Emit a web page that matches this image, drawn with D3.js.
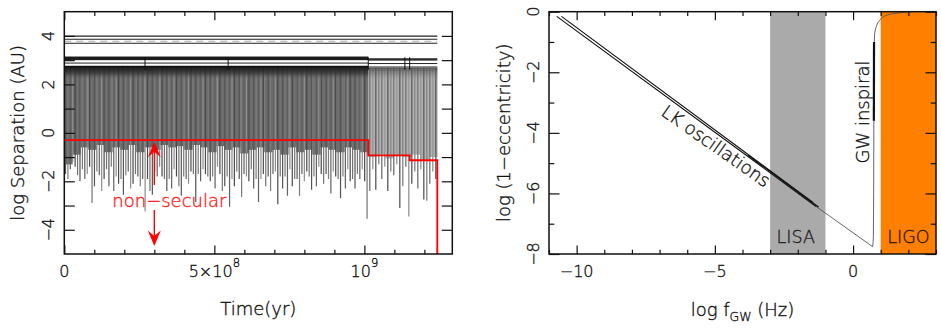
<!DOCTYPE html>
<html><head><meta charset="utf-8">
<script src="https://cdn.jsdelivr.net/npm/d3@7"></script>
<style>
body{margin:0;background:#fff}
svg{display:block}
text{font-family:"DejaVu Sans",sans-serif;font-weight:300;fill:#111;stroke:#111;stroke-width:0.35px}
</style>
</head><body>
<svg id="c" width="941" height="329"></svg>
<script>
// ---------------- LEFT PANEL DATA ----------------
const timeDomain = [0, 1.293e9];
const sepDomain = [-5, 5];
const timeMajorTicks = [0, 5e8, 1e9];
const timeMinorTicks = [1e8,2e8,3e8,4e8,6e8,7e8,8e8,9e8,1.1e9,1.2e9];
const sepTicks = [-4,-3,-2,-1,0,1,2,3,4];
const sepTickLabels = [-4,-2,0,2,4];

// outer orbit (log AU) – constant lines until end of run
const outerLevels = [3.99, 3.86, 3.70];
const outerFaint = [3.78];
const runEnd = 1.243e9;

// two secular phases (start,end in yr)
const phaseStarts = [0, 1.013e9];
const phaseEnds   = [1.013e9, 1.243e9];
// inner binary band (apoapsis side) per phase
const bandTop    = [3.15, 3.08];
const bandBottom = [3.00, 2.98];
const bandLine1  = [2.88, 2.86];
const bandLine2  = [2.74, 2.72];

// periapsis minima for each LK cycle, phase 1
const phase1Min = [-1.7,-1.9,-1.5,-1.2,-1.4,-1.75,-2.0,-1.5,-1.9,-1.7,-1.4,-2.9,-2.2,-1.6,-1.75,-2.4,-1.9,-1.5,-2.2,-1.4,
-2.4,-1.8,-2.1,-1.9,-2.55,-1.75,-1.6,-2.3,-2.1,-1.7,-1.8,-2.2,-1.9,-3.25,-1.9,-2.4,-2.55,-1.6,-1.8,-1.4,
-1.8,-1.9,-2.4,-1.9,-2.3,-1.5,-1.8,-2.2,-2.6,-1.8,-1.9,-2.1,-1.6,-1.7,-2.85,-1.7,-2.0,-1.5,-1.7,-1.8,
-2.0,-1.8,-2.3,-1.4,-1.7,-2.4,-2.2,-1.8,-3.05,-1.9,-2.2,-1.6,-1.9,-2.65,-1.7,-1.8,-2.0,-1.5,-2.3,-1.9,
-2.85,-1.9,-1.7,-2.2,-1.8,-2.4,-1.7,-1.6,-2.95,-1.8,-2.3,-1.8,-2.6,-1.5,-2.2,-1.9,-1.9,-2.6,-1.7,-2.0,
-1.6,-1.8,-2.35,-1.8,-2.2,-1.4,-1.7,-2.1,-1.7,-1.9,-2.5,-1.6,-1.8,-1.9,-2.7,-1.8,-2.3,-1.5,-2.0,-1.9,
-2.3,-1.7,-1.9,-1.5,-2.0,-3.55];
// lower edge of the dense (unresolved) part, phase 1
const phase1Floor = [-1.3,-0.9,-0.6,-0.7,-0.5,-0.8,-0.6,-0.7,-0.5,-0.8,-0.6,-0.7,-0.5,-0.6,-0.55,-0.7,-0.5,-0.6,-0.8,-0.55,
-0.7,-0.6,-0.85,-0.7,-0.6,-0.8,-0.7,-0.9,-0.6,-0.8,-0.7,-0.9,-0.6,-0.7,-0.8,-0.6,-0.7,-0.8];
// phase 2
const phase2Min = [-2.4,-1.5,-2.35,-1.3,-1.9,-1.4,-2.4,-1.6,-1.75,-1.3,-3.1,-2.2,-1.4,-3.45,-2.1,-1.6,-2.3,-1.5,-2.75,-2.8,
-2.1,-1.6,-1.9];
const phase2Floor = [-1.0,-0.9,-1.05,-0.95,-1.0,-0.9,-1.1,-1.0];
// instabilities / glitches seen as vertical marks in band
const glitchTimes = [2.69e8, 5.46e8, 1.013e9, 1.135e9, 1.151e9];

// non-secular threshold (red step)
const thrTimes  = [0, 1.013e9, 1.151e9, 1.243e9];
const thrLevels = [-0.30, -0.93, -1.13, -5];
const arrowTime = 3.0e8;
const upArrow = [-2.15, -0.37];
const downArrow = [-3.18, -4.67];

// ---------------- RIGHT PANEL DATA ----------------
const fDomain = [-11, 3];
const eDomain = [-8, 0];
const fMajor = [-10, -5, 0];
const fMinor = [-11,-9,-8,-7,-6,-4,-3,-2,-1,1,2,3];
const eMajor = [-8,-6,-4,-2,0];
const eMinor = [-7,-5,-3,-1];
const lisaBand = [-3, -1];
const ligoBand = [1, 3];
const lkTrackA = [[-10.72,-0.155],[-1.34,-6.43]];
const lkTrackB = [[-10.55,-0.155],[-1.45,-6.30]];
const lkTrackC = [[-3.80,-4.74],[-1.25,-6.45]];
const transitTrack = [[-1.34,-6.43],[0.71,-7.76]];
const gwTrack = [[0.71,-7.76],[0.735,-7.4],[0.745,-6.0],[0.75,-4.0],[0.755,-2.5],[0.765,-1.2],[0.78,-0.74],[0.83,-0.52],[0.95,-0.30],[1.2,-0.12],[1.67,-0.04],[2.1,0]];
const gwThick = [[0.752,-3.6],[0.758,-1.0]];

// ---------------- DRAW ----------------
const svg = d3.select("#c");
const L = {x0:64.3, x1:452.3, y0:11.7, y1:254};
const R = {x0:549, x1:936, y0:11.7, y1:254};

const xL = d3.scaleLinear().domain(timeDomain).range([L.x0, L.x1]);
const yL = d3.scaleLinear().domain(sepDomain).range([L.y1, L.y0]);
const xR = d3.scaleLinear().domain(fDomain).range([R.x0, R.x1]);
const yR = d3.scaleLinear().domain(eDomain).range([R.y1, R.y0]);

const defs = svg.append("defs");
const grad = defs.append("linearGradient").attr("id","topshade").attr("x1",0).attr("x2",0).attr("y1",0).attr("y2",1);
grad.append("stop").attr("offset","0%").attr("stop-color","#151515").attr("stop-opacity",1);
grad.append("stop").attr("offset","55%").attr("stop-color","#333").attr("stop-opacity",0.7);
grad.append("stop").attr("offset","100%").attr("stop-color","#555").attr("stop-opacity",0);
const grad2 = defs.append("linearGradient").attr("id","topshade2").attr("x1",0).attr("x2",0).attr("y1",0).attr("y2",1);
grad2.append("stop").attr("offset","0%").attr("stop-color","#444").attr("stop-opacity",0.8);
grad2.append("stop").attr("offset","100%").attr("stop-color","#777").attr("stop-opacity",0);

const gl = svg.append("g");
gl.append("clipPath").attr("id","clipL").append("rect")
  .attr("x",L.x0).attr("y",L.y0).attr("width",L.x1-L.x0).attr("height",L.y1-L.y0);
const pl = gl.append("g").attr("clip-path","url(#clipL)");

outerLevels.forEach(v=>{
  pl.append("line").attr("x1",xL(0)).attr("x2",xL(runEnd)).attr("y1",yL(v)).attr("y2",yL(v))
    .attr("stroke","#222").attr("stroke-width",1.1);
});
outerFaint.forEach(v=>{
  pl.append("line").attr("x1",xL(0)).attr("x2",xL(runEnd)).attr("y1",yL(v)).attr("y2",yL(v))
    .attr("stroke","#aaa").attr("stroke-width",1).attr("stroke-dasharray","7,5");
});

function drawPhase(k, mins, floor, baseFill, barColors, barW, topY){
  const t0 = phaseStarts[k], t1 = phaseEnds[k];
  const fb = d3.scaleBand().domain(d3.range(floor.length)).range([xL(t0), xL(t1)]);
  floor.forEach((v,i)=>{
    pl.append("rect").attr("x",fb(i)).attr("width",fb.bandwidth()+0.3)
      .attr("y",yL(topY)).attr("height",yL(v)-yL(topY)).attr("fill",baseFill);
  });
  const b = d3.scaleBand().domain(d3.range(mins.length)).range([xL(t0), xL(t1)]);
  mins.forEach((v,i)=>{
    const x = b(i)+b.bandwidth()/2;
    pl.append("line").attr("x1",x).attr("x2",x).attr("y1",yL(topY)).attr("y2",yL(v))
      .attr("stroke",barColors[i%barColors.length]).attr("stroke-width",barW);
  });
  pl.append("rect").attr("x",xL(t0)).attr("width",xL(t1)-xL(t0))
    .attr("y",yL(bandBottom[k])).attr("height",yL(topY)-yL(bandBottom[k])).attr("fill","#fff");
  pl.append("rect").attr("x",xL(t0)).attr("width",xL(t1)-xL(t0))
    .attr("y",yL(bandTop[k])).attr("height",yL(bandBottom[k])-yL(bandTop[k])).attr("fill",k==0?"#1c1c1c":"#2e2e2e");
  pl.append("line").attr("x1",xL(t0)).attr("x2",xL(t1)).attr("y1",yL(bandLine1[k])).attr("y2",yL(bandLine1[k]))
    .attr("stroke","#222").attr("stroke-width",1);
  pl.append("line").attr("x1",xL(t0)).attr("x2",xL(t1)).attr("y1",yL(bandLine2[k])).attr("y2",yL(bandLine2[k]))
    .attr("stroke",k==0?"#111":"#666").attr("stroke-width",1.2);
  pl.append("rect").attr("x",xL(t0)).attr("width",xL(t1)-xL(t0))
    .attr("y",yL(topY)).attr("height",yL(topY-0.5)-yL(topY)).attr("fill",k==0?"url(#topshade)":"url(#topshade2)");
}
drawPhase(0, phase1Min, phase1Floor, "#6a6a6a", ["#555","#7a7a7a","#606060","#8c8c8c","#4a4a4a","#727272"], 1.2, 2.72);
drawPhase(1, phase2Min, phase2Floor, "#b0b0b0", ["#7a7a7a","#999","#626262","#8a8a8a"], 1.4, 2.70);

glitchTimes.forEach(t=>{
  pl.append("line").attr("x1",xL(t)).attr("x2",xL(t)).attr("y1",yL(3.12)).attr("y2",yL(2.6))
    .attr("stroke","#111").attr("stroke-width",1);
});

const stepLine = d3.line().x(d=>xL(d[0])).y(d=>yL(d[1])).curve(d3.curveStepAfter);
pl.append("path").datum(thrTimes.map((t,i)=>[t,thrLevels[i]]))
  .attr("d",stepLine).attr("fill","none").attr("stroke","#ff0000").attr("stroke-width",1.9);

function arrow(from, to){
  const x = xL(arrowTime), y0 = yL(from), y1 = yL(to);
  const dir = Math.sign(y1-y0);
  gl.append("line").attr("x1",x).attr("x2",x).attr("y1",y0).attr("y2",y1-dir*8)
    .attr("stroke","#ff0000").attr("stroke-width",1.4);
  const hw = 6.5, hl = 15.5, notch = 10;
  gl.append("path").attr("d",`M${x},${y1} L${x-hw},${y1-dir*hl} L${x},${y1-dir*notch} L${x+hw},${y1-dir*hl} Z`)
    .attr("fill","#ff0000");
}
arrow(upArrow[0], upArrow[1]);
arrow(downArrow[0], downArrow[1]);
gl.append("text").attr("x",xL(arrowTime)-42).attr("y",206.5).attr("font-size",18)
  .style("fill","#ff1a1a").style("stroke","#ff1a1a").text("non\u2212secular");

function ticks(g, x, y, box, xMaj, xMin, yMaj, yMin, xMajLen, xMinLen, yMajLen, yMinLen){
  const mk = (axis, vals, len, tr) => {
    const a = g.append("g").attr("transform",tr)
      .call(axis.tickValues(vals).tickSizeInner(-len).tickSizeOuter(0).tickFormat(""));
    a.select(".domain").remove();
    a.selectAll("line").attr("stroke","#111").attr("stroke-width",1.2);
  };
  mk(d3.axisBottom(x), xMaj, xMajLen, `translate(0,${box.y1})`);
  mk(d3.axisBottom(x), xMin, xMinLen, `translate(0,${box.y1})`);
  mk(d3.axisTop(x), xMaj, xMajLen, `translate(0,${box.y0})`);
  mk(d3.axisTop(x), xMin, xMinLen, `translate(0,${box.y0})`);
  mk(d3.axisLeft(y), yMaj, yMajLen, `translate(${box.x0},0)`);
  mk(d3.axisLeft(y), yMin, yMinLen, `translate(${box.x0},0)`);
  mk(d3.axisRight(y), yMaj, yMajLen, `translate(${box.x1},0)`);
  mk(d3.axisRight(y), yMin, yMinLen, `translate(${box.x1},0)`);
  g.append("rect").attr("x",box.x0).attr("y",box.y0).attr("width",box.x1-box.x0).attr("height",box.y1-box.y0)
    .attr("fill","none").attr("stroke","#111").attr("stroke-width",1.5);
}
ticks(gl, xL, yL, L, timeMajorTicks, timeMinorTicks, sepTicks, [], 8.5, 4.3, 10.5, 5.3);

sepTickLabels.forEach(v=>{
  gl.append("text").attr("transform",`translate(53.5,${yL(v)}) rotate(-90)`)
    .attr("text-anchor","middle").attr("font-size",16).text(v<0?"\u2212"+Math.abs(v):String(v));
});
gl.append("text").attr("x",xL(0)).attr("y",277).attr("text-anchor","middle").attr("font-size",16).text("0");
const tl1 = gl.append("text").attr("x",xL(5e8)).attr("y",277).attr("text-anchor","middle").attr("font-size",16);
tl1.append("tspan").text("5\u00d710");
tl1.append("tspan").attr("dy",-10).attr("font-size",11.5).text("8");
const tl2 = gl.append("text").attr("x",xL(1e9)).attr("y",277).attr("text-anchor","middle").attr("font-size",16);
tl2.append("tspan").text("10");
tl2.append("tspan").attr("dy",-10).attr("font-size",11.5).text("9");
gl.append("text").attr("x",(L.x0+L.x1)/2).attr("y",315).attr("text-anchor","middle").attr("font-size",18).text("Time(yr)");
gl.append("text").attr("transform",`translate(23.5,${(L.y0+L.y1)/2}) rotate(-90)`)
  .attr("text-anchor","middle").attr("font-size",18).text("log Separation (AU)");

// ---------------- RIGHT PANEL ----------------
const gr = svg.append("g");
gr.append("rect").attr("x",xR(lisaBand[0])).attr("width",xR(lisaBand[1])-xR(lisaBand[0]))
  .attr("y",R.y0).attr("height",R.y1-R.y0).attr("fill","#aaaaaa");
gr.append("rect").attr("x",xR(ligoBand[0])).attr("width",xR(ligoBand[1])-xR(ligoBand[0]))
  .attr("y",R.y0).attr("height",R.y1-R.y0).attr("fill","#ff8000");

const ln = d3.line().x(d=>xR(d[0])).y(d=>yR(d[1]));
const lnC = d3.line().x(d=>xR(d[0])).y(d=>yR(d[1])).curve(d3.curveMonotoneY);
gr.append("path").datum(transitTrack).attr("d",ln).attr("fill","none").attr("stroke","#555").attr("stroke-width",0.9);
gr.append("path").datum(gwTrack).attr("d",lnC).attr("fill","none").attr("stroke","#555").attr("stroke-width",0.9);
gr.append("path").datum(gwThick).attr("d",ln).attr("fill","none").attr("stroke","#111").attr("stroke-width",2.2);
[lkTrackA, lkTrackB, lkTrackC].forEach(t=>{
  gr.append("path").datum(t).attr("d",ln).attr("fill","none").attr("stroke","#111").attr("stroke-width",1.15);
});

gr.append("text").attr("x",(xR(lisaBand[0])+xR(lisaBand[1]))/2-2).attr("y",242.5).attr("text-anchor","middle")
  .attr("font-size",17.5).style("fill","#222").style("stroke","#222").text("LISA");
gr.append("text").attr("x",(xR(ligoBand[0])+xR(ligoBand[1]))/2).attr("y",242.5).attr("text-anchor","middle")
  .attr("font-size",17.5).style("fill","#2a1500").style("stroke","#2a1500").text("LIGO");
gr.append("text").attr("transform","translate(716,146) rotate(35)").attr("dy","0.35em")
  .attr("text-anchor","middle").attr("font-size",18).text("LK oscillations");
gr.append("text").attr("transform","translate(868.5,112) rotate(-90)")
  .attr("text-anchor","middle").attr("font-size",18).text("GW inspiral");

ticks(gr, xR, yR, R, fMajor, fMinor, eMajor, eMinor, 8.5, 4.3, 10.5, 5.3);

eMajor.forEach(v=>{
  gr.append("text").attr("transform",`translate(538.5,${yR(v)}) rotate(-90)`)
    .attr("text-anchor","middle").attr("font-size",16).text(v<0?"\u2212"+Math.abs(v):String(v));
});
fMajor.forEach(v=>{
  gr.append("text").attr("x",xR(v)).attr("y",277).attr("text-anchor","middle").attr("font-size",16)
    .text(v<0?"\u2212"+Math.abs(v):String(v));
});
const xlab = gr.append("text").attr("x",(R.x0+R.x1)/2).attr("y",316).attr("text-anchor","middle").attr("font-size",18);
xlab.append("tspan").text("log  f");
xlab.append("tspan").attr("dy",5).attr("font-size",12.5).text("GW");
xlab.append("tspan").attr("dy",-5).text(" (Hz)");
gr.append("text").attr("transform",`translate(510,${(R.y0+R.y1)/2}) rotate(-90)`)
  .attr("text-anchor","middle").attr("font-size",18).text("log (1\u2212eccentricity)");
</script>
</body></html>
